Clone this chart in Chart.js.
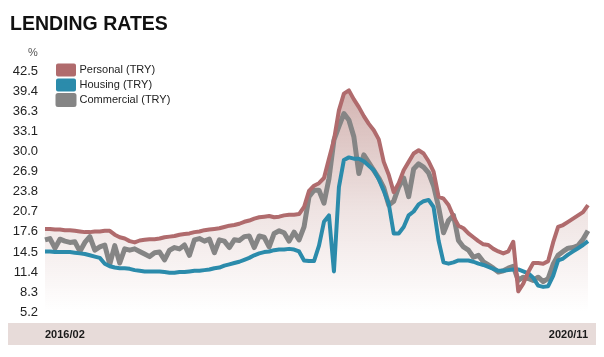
<!DOCTYPE html>
<html>
<head>
<meta charset="utf-8">
<script src="https://cdn.jsdelivr.net/npm/chart.js@4.4.1/dist/chart.umd.min.js"></script>
<style>
  html, body { margin: 0; padding: 0; background: #ffffff; }
  #wrap { position: relative; width: 604px; height: 357px; }
</style>
</head>
<body>
<div id="wrap"><canvas id="c" width="604" height="357"></canvas></div>
<script>
// ---- data ----
const titleText = 'LENDING RATES';
const unitText = '%';
const seriesNames = ['Personal (TRY)', 'Housing (TRY)', 'Commercial (TRY)'];
const xTickLabels = ['2016/02', '2020/11'];
const yTickLabels = ['5.2','8.3','11.4','14.5','17.6','20.7','23.8','26.9','30.0','33.1','36.3','39.4','42.5'];

const personal = [
  18.1,18.1,18.0,18.0,17.9,17.9,17.8,17.7,17.6,17.6,
  17.7,17.7,17.8,17.8,17.2,16.8,16.6,16.2,16.0,16.3,
  16.4,16.5,16.5,16.6,16.8,16.9,17.0,17.2,17.3,17.4,
  17.6,17.7,17.9,18.0,18.1,18.2,18.4,18.6,18.7,18.9,
  19.2,19.4,19.7,19.9,20.0,20.1,19.9,20.0,20.2,20.3,
  20.3,20.4,21.5,24.0,24.8,25.2,26.0,29.0,31.9,36.5,
  39.1,39.6,38.2,37.0,35.6,34.4,33.4,32.0,28.5,26.5,
  23.8,25.2,27.2,28.5,29.8,30.3,29.8,28.6,27.0,23.1,
  22.8,21.8,20.0,18.6,18.2,17.4,16.8,16.2,15.7,15.6,
  15.0,14.6,14.3,14.6,16.1,8.4,9.6,11.4,12.8,12.8,
  12.7,13.1,16.0,18.4,18.7,19.2,19.7,20.2,20.7,21.8
];
const housing = [
  14.6,14.6,14.5,14.5,14.5,14.5,14.4,14.3,14.2,14.0,
  13.8,13.6,12.7,12.3,12.1,12.0,12.0,11.9,11.7,11.6,
  11.5,11.5,11.5,11.5,11.4,11.3,11.3,11.4,11.4,11.5,
  11.6,11.6,11.7,11.8,12.0,12.1,12.4,12.6,12.8,13.0,
  13.3,13.6,14.0,14.3,14.5,14.6,14.8,14.9,14.9,15.0,
  14.9,14.6,13.2,13.1,13.1,15.5,19.2,20.2,11.5,24.6,
  28.8,29.2,29.0,29.0,28.6,27.9,27.2,25.8,24.0,22.0,
  17.4,17.4,18.4,20.2,20.8,21.9,22.4,22.6,21.5,16.3,
  12.9,12.7,12.9,13.2,13.2,13.2,13.0,12.7,12.5,12.2,
  11.9,11.6,11.6,11.7,11.8,11.8,11.5,11.2,10.5,9.3,
  9.1,9.2,10.8,13.2,13.5,14.1,14.6,15.1,15.6,16.2
];
const commercial = [
  16.4,16.6,15.1,16.5,16.2,16.0,16.1,14.6,16.0,16.9,
  14.8,15.3,15.6,12.6,15.5,12.8,15.0,14.8,15.0,14.6,
  14.2,13.8,14.4,14.5,13.3,14.8,15.2,15.0,15.6,14.0,
  16.4,16.6,16.2,16.5,14.4,16.4,16.2,15.2,16.4,16.3,
  16.9,17.0,15.2,17.0,16.8,15.3,17.4,17.8,17.5,16.2,
  17.6,16.4,18.4,23.1,24.1,24.1,22.1,25.9,31.9,34.0,
  36.0,35.0,32.4,26.7,29.6,28.4,27.2,26.0,24.5,21.8,
  22.4,24.6,26.0,23.1,27.4,28.2,27.7,26.8,24.8,21.5,
  17.5,19.4,20.2,16.3,15.3,14.8,13.7,14.0,13.0,12.5,
  12.0,11.4,11.6,12.0,12.3,10.1,10.6,10.4,10.1,10.6,
  9.9,10.4,12.6,14.0,14.6,15.1,15.2,15.5,16.5,17.8
];

// categories: roughly two-week periods from 2016/02 to 2020/11
const categories = [];
(function () {
  const start = Date.UTC(2016, 1, 1), end = Date.UTC(2020, 10, 1);
  const n = personal.length;
  for (let i = 0; i < n; i++) {
    const d = new Date(start + (end - start) * i / (n - 1));
    categories.push(d.getUTCFullYear() + '/' + String(d.getUTCMonth() + 1).padStart(2, '0') + '/' + String(d.getUTCDate()).padStart(2, '0'));
  }
})();

const colors = { personal: '#b06b6d', housing: '#2b8bab', commercial: '#858585' };

const Y_MIN = 5.2, Y_TOP_TICK = 42.5, Y_MAX = 45;

const decor = {
  id: 'decor',
  beforeDraw(chart) {
    const ctx = chart.ctx;
    ctx.save();
    ctx.fillStyle = '#e7dbd9';
    ctx.fillRect(8, 323, chart.width - 16, 22);
    ctx.restore();
  },
  afterDraw(chart) {
    const ctx = chart.ctx;
    ctx.save();
    ctx.fillStyle = '#555555';
    ctx.font = '11px "Liberation Sans", Arial, sans-serif';
    ctx.textAlign = 'center';
    ctx.textBaseline = 'middle';
    ctx.fillText(unitText, 33, 53);
    ctx.restore();
  },
  afterLayout(chart) {
    if (chart.legend) {
      chart.legend.left = chart.chartArea.left + 9;
      chart.legend.top = chart.chartArea.top + 5;
    }
  }
};

function fillGradient(context) {
  const chart = context.chart;
  const a = chart.chartArea;
  if (!a) return 'rgba(175,120,115,0.2)';
  const g = chart.ctx.createLinearGradient(0, 90, 0, a.bottom);
  g.addColorStop(0, 'rgba(175,118,113,0.55)');
  g.addColorStop(0.55, 'rgba(175,118,113,0.2)');
  g.addColorStop(1, 'rgba(175,118,113,0)');
  return g;
}

new Chart(document.getElementById('c'), {
  type: 'line',
  data: {
    labels: categories,
    datasets: [
      { label: seriesNames[0], data: personal, borderColor: colors.personal, backgroundColor: colors.personal,
        borderWidth: 4, pointRadius: 0, tension: 0, fill: false, borderJoinStyle: 'round' },
      { label: seriesNames[1], data: housing, borderColor: colors.housing, backgroundColor: colors.housing,
        borderWidth: 4, pointRadius: 0, tension: 0, fill: false, borderJoinStyle: 'round' },
      { label: seriesNames[2], data: commercial, borderColor: colors.commercial, backgroundColor: colors.commercial,
        borderWidth: 5, pointRadius: 0, tension: 0, fill: false, borderJoinStyle: 'round' },
      { label: '_fill', data: personal, borderWidth: 0, pointRadius: 0, tension: 0,
        fill: 'origin', backgroundColor: fillGradient, borderColor: 'rgba(0,0,0,0)', order: 10 }
    ]
  },
  options: {
    responsive: false,
    animation: false,
    layout: { padding: { left: 10, right: 13, top: 0, bottom: 16 } },
    plugins: {
      title: {
        display: true, text: titleText, align: 'start', color: '#111111',
        font: { family: '"Liberation Sans", Arial, sans-serif', size: 19.5, weight: 'bold', lineHeight: 1.2 },
        padding: { top: 13, bottom: 19.2 }
      },
      legend: {
        display: true, position: 'chartArea', align: 'start',
        labels: {
          boxWidth: 16, boxHeight: 9, padding: 4, color: '#222222',
          font: { family: '"Liberation Sans", Arial, sans-serif', size: 11 },
          filter: (item) => item.text !== '_fill'
        }
      },
      tooltip: { enabled: false }
    },
    scales: {
      x: {
        type: 'category',
        grid: { display: false, drawTicks: false },
        border: { display: false },
        afterFit: (scale) => { scale.height = 29; },
        ticks: {
          autoSkip: false, maxRotation: 0, minRotation: 0, align: 'inner', padding: 16,
          color: '#1a1a1a',
          font: { family: '"Liberation Sans", Arial, sans-serif', size: 11, weight: 'bold', lineHeight: 1.2 },
          callback: function (v, i, ticks) {
            if (i === 0) return xTickLabels[0];
            if (i === ticks.length - 1) return xTickLabels[1];
            return '';
          }
        }
      },
      y: {
        min: Y_MIN, max: Y_MAX,
        grid: { display: false, drawTicks: false },
        border: { display: false },
        afterFit: (scale) => { scale.width = 35; },
        afterBuildTicks: (scale) => {
          const step = (Y_TOP_TICK - Y_MIN) / (yTickLabels.length - 1);
          scale.ticks = yTickLabels.map((l, i) => ({ value: Y_MIN + i * step }));
        },
        ticks: {
          padding: 7, color: '#222222',
          font: { family: '"Liberation Sans", Arial, sans-serif', size: 13 },
          callback: function (v, i) { return yTickLabels[i]; }
        }
      }
    }
  },
  plugins: [decor]
});
</script>
</body>
</html>
